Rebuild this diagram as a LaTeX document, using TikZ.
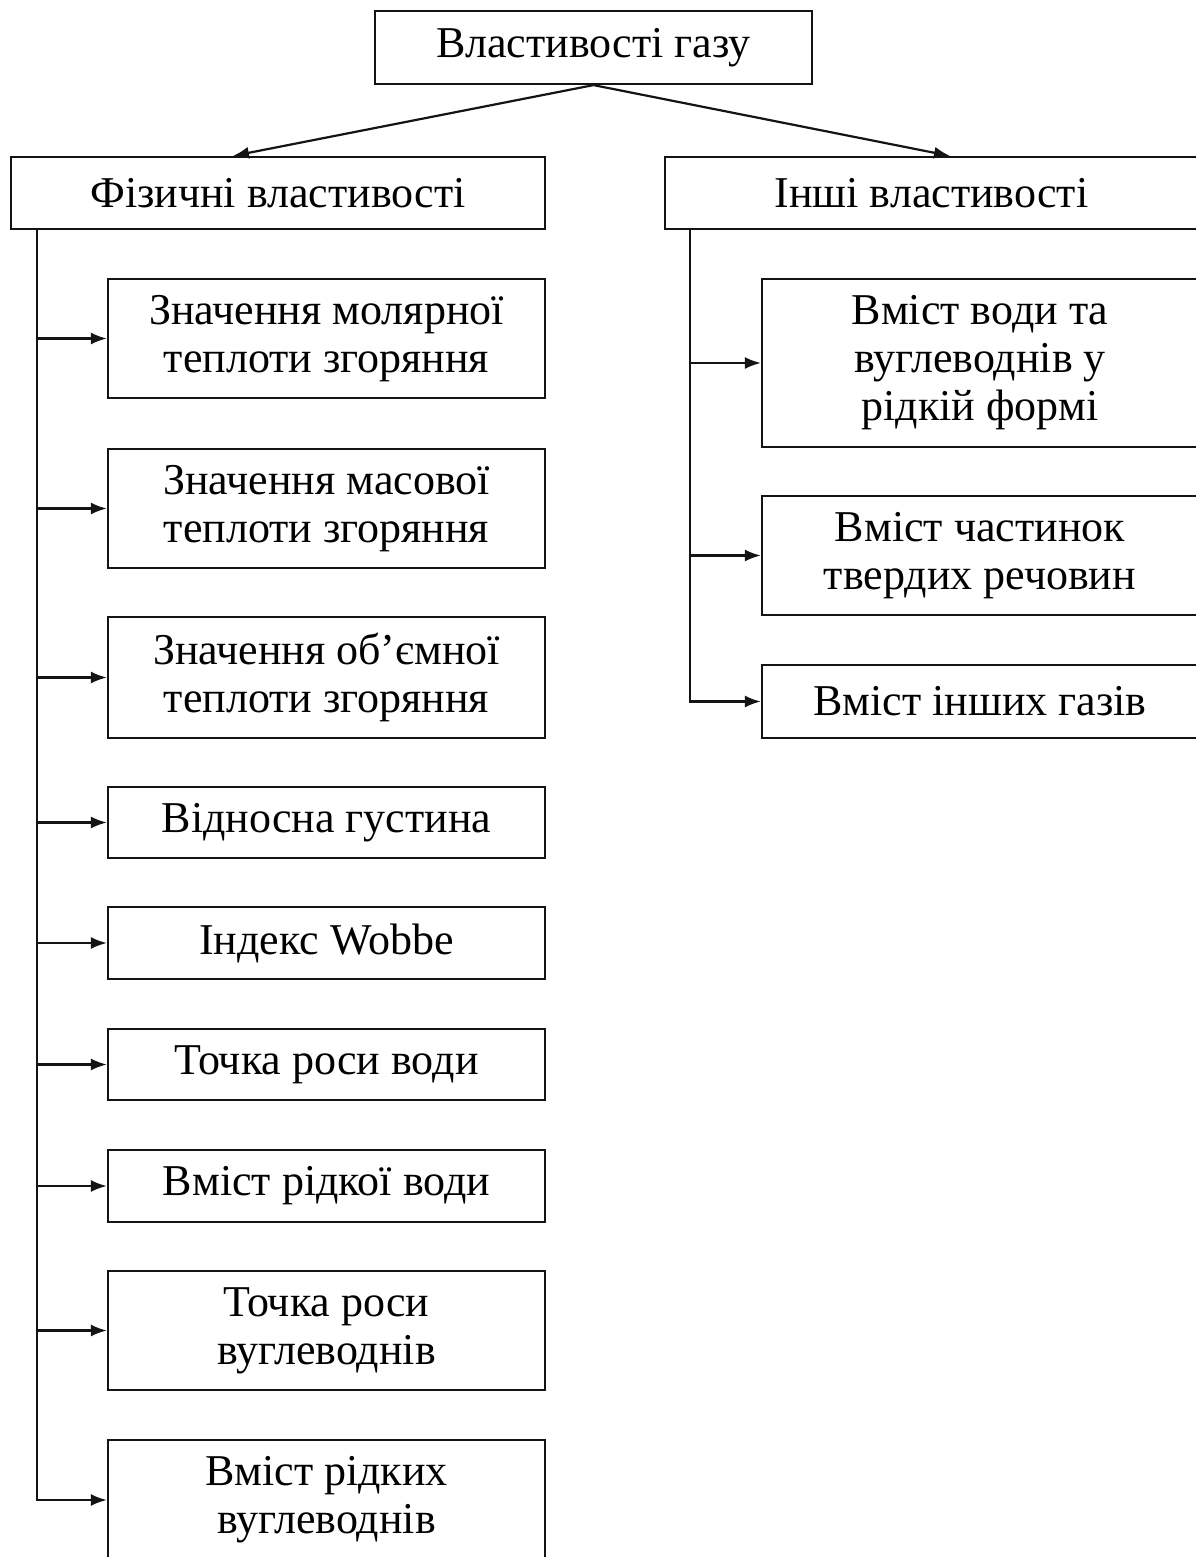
\documentclass[tikz,border=0pt]{standalone}
\usepackage{fontspec}
\setmainfont{Liberation Serif}
\usepackage{tikz}
\usetikzlibrary{arrows.meta}
\definecolor{line_black}{RGB}{20,20,20}

\begin{document}
\begin{tikzpicture}[->,line width=1.1pt,>={Latex[length=8pt,width=6pt]},x=0.5pt,y=-0.5pt,line_black]
    \tikzstyle{box}=[draw=line_black, rectangle, inner sep=0pt, align=center, text=black, font=\fontsize{22}{24}\selectfont]
    \tikzstyle{lbox}=[style=box, minimum width=218.5pt]
    \tikzstyle{rbox}=[style=box, minimum width=218pt]
    \useasboundingbox (0,0) rectangle (1195,1557);

    \node[box, minimum width=218.5pt, minimum height=36.5pt] (gas) at (593.5,47.5) {Властивості газу};
    \node[box, minimum width=267pt, minimum height=36pt] (fiz) at (278,193) {Фізичні властивості};
    \node[box, minimum width=266.5pt, minimum height=36pt] (inshi) at (931.5,193) {Інші властивості};

    \node[lbox, minimum height=59.5pt] (l1) at (326.5,338.5) {Значення молярної\\теплоти згоряння};
    \node[lbox, minimum height=59.5pt] (l2) at (326.5,508.5) {Значення масової\\теплоти згоряння};
    \node[lbox, minimum height=60.5pt] (l3) at (326.5,677.5) {Значення об’ємної\\теплоти згоряння};
    \node[lbox, minimum height=35.5pt] (l4) at (326.5,822.5) {Відносна густина};
    \node[lbox, minimum height=36pt]   (l5) at (326.5,943)   {Індекс Wobbe};
    \node[lbox, minimum height=35.5pt] (l6) at (326.5,1064.5) {Точка роси води};
    \node[lbox, minimum height=36pt]   (l7) at (326.5,1186)  {Вміст рідкої води};
    \node[lbox, minimum height=59.5pt] (l8) at (326.5,1330.5) {Точка роси\\вуглеводнів};
    \node[lbox, minimum height=60pt]   (l9) at (326.5,1500)  {Вміст рідких\\вуглеводнів};

    \node[rbox, minimum height=84pt]   (r1) at (980,363)   {Вміст води та\\вуглеводнів у\\рідкій формі};
    \node[rbox, minimum height=59.5pt] (r2) at (980,555.5) {Вміст частинок\\твердих речовин};
    \node[rbox, minimum height=36.5pt] (r3) at (980,701.5) {Вміст інших газів};

    \coordinate (fspine) at (37,229);
    \coordinate (ispine) at (690,229);

    \path
     (gas.south) edge ([xshift=-22.5pt]fiz.north)
     (gas.south) edge ([xshift=9.25pt]inshi.north)
     ;
    \foreach \n in {l1,l2,l3,l4,l5,l6,l7,l8,l9}
      \draw (fspine) |- (\n.west);
    \foreach \n in {r1,r2,r3}
      \draw (ispine) |- (\n.west);
\end{tikzpicture}
\end{document}
